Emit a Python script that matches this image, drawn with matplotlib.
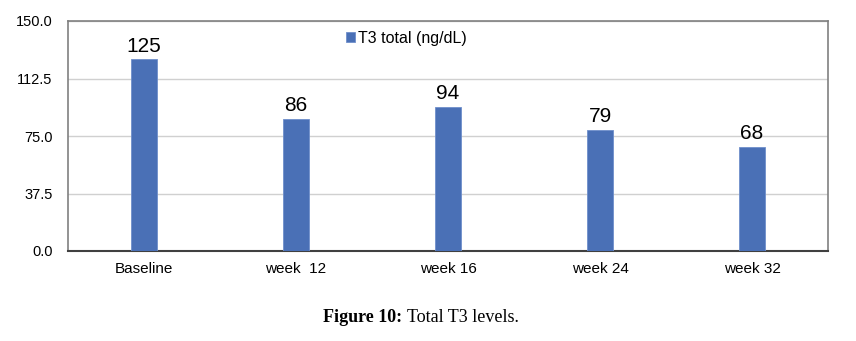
import matplotlib
matplotlib.use("Agg")
import matplotlib.pyplot as plt

categories = ["Baseline", "week  12", "week 16", "week 24", "week 32"]
values = [125, 86, 94, 79, 68]
series_name = "T3 total (ng/dL)"
yticks = [0.0, 37.5, 75.0, 112.5, 150.0]
ytick_labels = ["0.0", "37.5", "75.0", "112.5", "150.0"]

plt.rcParams['font.family'] = ['Liberation Sans', 'DejaVu Sans']

fig = plt.figure(figsize=(8.56, 3.41), dpi=100)
ax = fig.add_axes([68/856, 1 - 251/341, 760/856, 230/341])

x = list(range(len(categories)))
bars = ax.bar(x, values, width=0.165, color="#4a70b6", edgecolor="#6f8fcb",
              linewidth=0.6, label=series_name, zorder=3)
for xi, v in zip(x, values):
    ax.text(xi, v + 2.5, f"{v}", ha="center", va="bottom", fontsize=15, color="black", zorder=4)

ax.set_xlim(-0.5, len(categories) - 0.5)
ax.set_ylim(0, 150)
ax.set_yticks(yticks)
ax.set_yticklabels(ytick_labels, fontsize=10.5)
ax.set_xticks(x)
ax.set_xticklabels(categories, fontsize=11)
ax.tick_params(axis="x", length=0, pad=8)
ax.tick_params(axis="y", length=0, pad=11)
ax.yaxis.grid(True, color="#d0d0d0", linewidth=1.0, zorder=0)
ax.set_axisbelow(True)
for side in ["top", "right", "left"]:
    ax.spines[side].set_color("#808080")
    ax.spines[side].set_linewidth(1.2)
ax.spines["bottom"].set_color("#404040")
ax.spines["bottom"].set_linewidth(1.5)

leg = ax.legend(loc="center left", bbox_to_anchor=(278/760, 0.925), frameon=False,
                fontsize=11.5, handlelength=0.55, handleheight=0.55, handletextpad=0.2,
                borderpad=0, borderaxespad=0)

fig.text(323/856, 1 - 318/341, "Figure 10:", fontsize=13, fontweight="bold",
         family="Liberation Serif", ha="left", va="center")
fig.text(407/856, 1 - 318/341, "Total T3 levels.", fontsize=13,
         family="Liberation Serif", ha="left", va="center")

fig.savefig("out.png", dpi=100)
